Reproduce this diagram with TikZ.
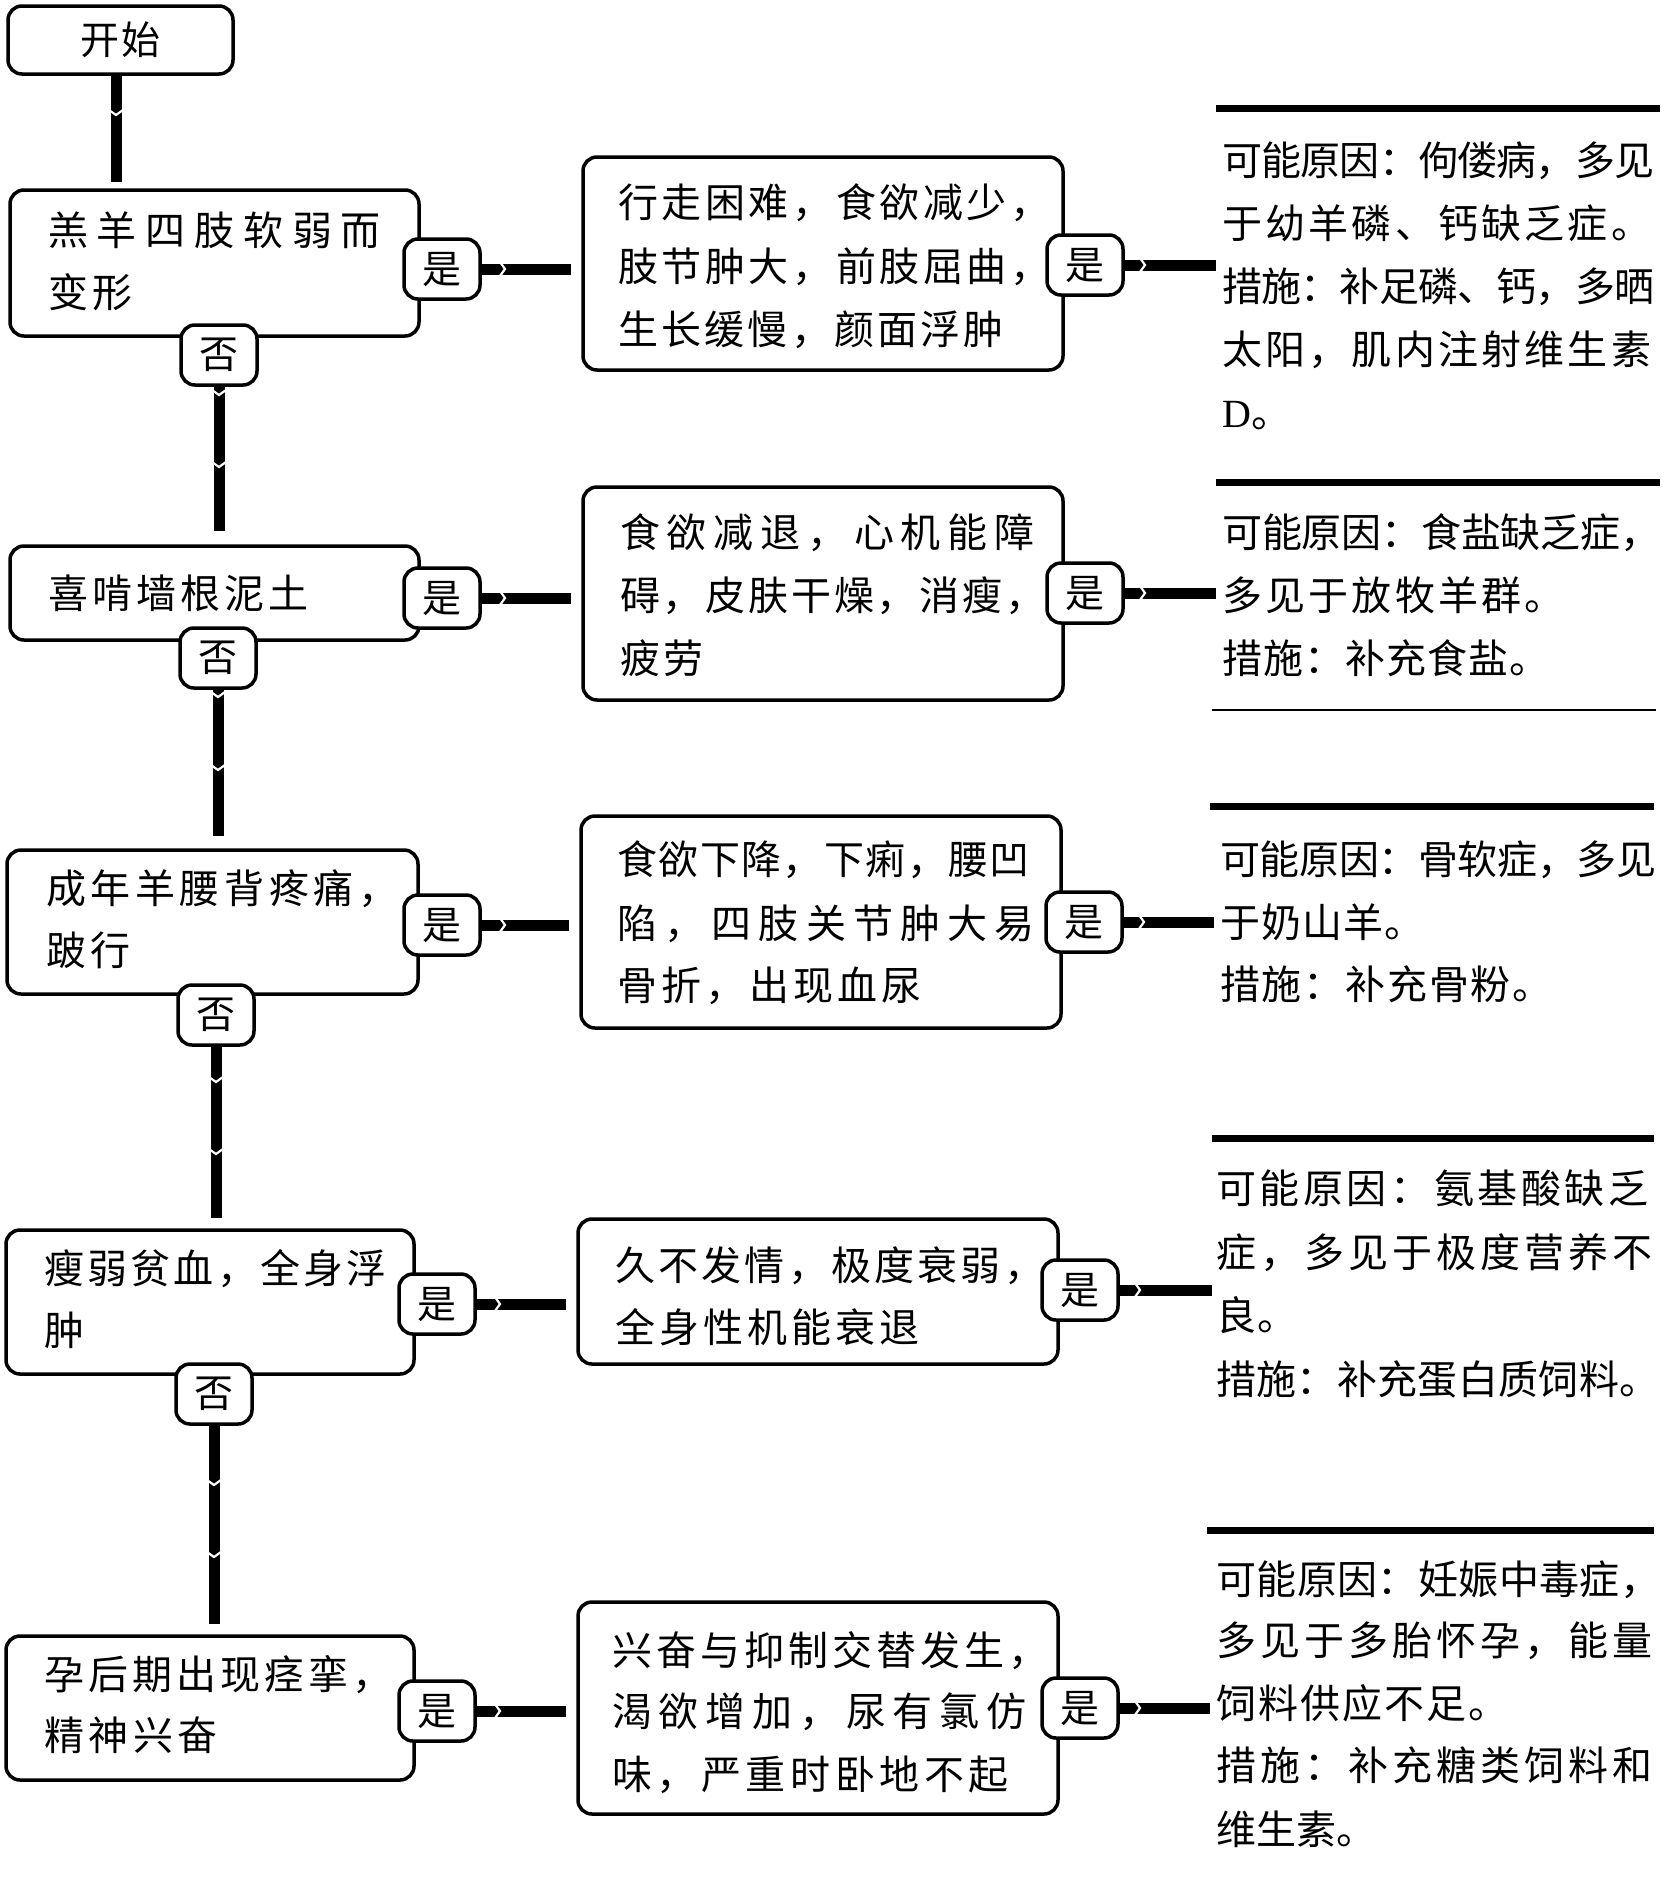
\documentclass[tikz,border=0pt]{standalone}
\usepackage{fontspec}
\newfontfamily\cjk{Noto Sans CJK SC}
\newfontfamily\latserif{Liberation Serif}
\newcommand\mytl[5]{\node[txt,anchor=base west] (#1) at (#2,#3) {\addfontfeature{LetterSpace=#4}#5};}
\begin{document}
\begin{tikzpicture}[x=1pt,y=-1pt,
  box/.style={draw,line width=3.5pt,rounded corners=14pt,fill=white,inner sep=0pt},
  badge/.style={draw,line width=3.5pt,rounded corners=14pt,fill=white,minimum width=76pt,minimum height=60pt,inner sep=0pt,font=\cjk\fontsize{39}{42}\selectfont},
  conn/.style={line width=11pt},
  notch/.style={white,line width=2.2pt},
  txt/.style={inner sep=0pt,font=\cjk\fontsize{40}{44}\selectfont},
  topbar/.style={line width=7pt},
  thinbar/.style={line width=1.5pt}]
\useasboundingbox (0,0) rectangle (1664,1882);

% ---------- left column boxes ----------
\node[box,minimum width=225pt,minimum height=68pt,font=\cjk\fontsize{39}{42}\selectfont] (start) at (120.5,40) {\addfontfeature{LetterSpace=5}开始};
\node[box,minimum width=409pt,minimum height=146pt] (q1) at (214.5,263) {};
\node[box,minimum width=409pt,minimum height=94pt]  (q2) at (214.5,593) {};
\node[box,minimum width=411pt,minimum height=144pt] (q3) at (212.5,922) {};
\node[box,minimum width=408pt,minimum height=144pt] (q4) at (210,1302) {};
\node[box,minimum width=408pt,minimum height=144pt] (q5) at (210,1708) {};

% ---------- middle boxes ----------
\node[box,minimum width=480pt,minimum height=213pt] (m1) at (823,263.5) {};
\node[box,minimum width=480pt,minimum height=213pt] (m2) at (823,593.5) {};
\node[box,minimum width=480pt,minimum height=212pt] (m3) at (821,922) {};
\node[box,minimum width=480pt,minimum height=145pt] (m4) at (818,1291.5) {};
\node[box,minimum width=480pt,minimum height=212pt] (m5) at (818,1708) {};

% ---------- right blocks ----------
\draw[topbar] (1216,108) -- (1660,108);
\draw[topbar] (1216,482) -- (1660,482);
\draw[thinbar] (1212,710) -- (1656,710);
\draw[topbar] (1210,806) -- (1654,806);
\draw[topbar] (1212,1138) -- (1654,1138);
\draw[topbar] (1207,1530) -- (1654,1530);
\coordinate (e1) at (1216,265);
\coordinate (e2) at (1216,593);
\coordinate (e3) at (1214,922);
\coordinate (e4) at (1212,1290);
\coordinate (e5) at (1210,1708);

% ---------- badges ----------
\node[badge] (y1) at (442,269) {是};
\node[badge] (n1) at (219,355) {否};
\node[badge] (y2) at (442,598) {是};
\node[badge] (n2) at (218,658) {否};
\node[badge] (y3) at (442,925) {是};
\node[badge] (n3) at (216,1015) {否};
\node[badge] (y4) at (437,1304) {是};
\node[badge] (n4) at (214,1394) {否};
\node[badge] (y5) at (437,1711) {是};
\node[badge] (z1) at (1085,265) {是};
\node[badge] (z2) at (1085,593) {是};
\node[badge] (z3) at (1084,922) {是};
\node[badge] (z4) at (1080,1290) {是};
\node[badge] (z5) at (1080,1708) {是};

% ---------- vertical connectors ----------
\draw[conn,shorten >=6pt] ([xshift=-4pt]start.south) -- ([xshift=-4pt]start.south |- q1.north);
\draw[notch] (116,113) ++(-7,-3) -- ++(7,5) -- ++(7,-5);
\draw[conn,shorten >=13pt] (n1.south) -- (n1.south |- q2.north);
\draw[notch] (219,393) ++(-7,-3) -- ++(7,5) -- ++(7,-5);
\draw[notch] (219,465) ++(-7,-3) -- ++(7,5) -- ++(7,-5);
\draw[conn,shorten >=12pt] (n2.south) -- (n2.south |- q3.north);
\draw[notch] (218,695) ++(-7,-3) -- ++(7,5) -- ++(7,-5);
\draw[notch] (218,768) ++(-7,-3) -- ++(7,5) -- ++(7,-5);
\draw[conn,shorten >=10pt] (n3.south) -- (n3.south |- q4.north);
\draw[notch] (216,1080) ++(-7,-3) -- ++(7,5) -- ++(7,-5);
\draw[notch] (216,1152) ++(-7,-3) -- ++(7,5) -- ++(7,-5);
\draw[conn,shorten >=10pt] (n4.south) -- (n4.south |- q5.north);
\draw[notch] (214,1483) ++(-7,-3) -- ++(7,5) -- ++(7,-5);
\draw[notch] (214,1555) ++(-7,-3) -- ++(7,5) -- ++(7,-5);

% ---------- horizontal connectors ----------
\draw[conn,shorten >=10pt] (y1.east) -- (y1.east -| m1.west);
\draw[notch] (503,269) ++(-3,-7) -- ++(5,7) -- ++(-5,7);
\draw[conn,shorten >=10pt] (y2.east) -- (y2.east -| m2.west);
\draw[notch] (503,598) ++(-3,-7) -- ++(5,7) -- ++(-5,7);
\draw[conn,shorten >=10pt] (y3.east) -- (y3.east -| m3.west);
\draw[notch] (503,925) ++(-3,-7) -- ++(5,7) -- ++(-5,7);
\draw[conn,shorten >=10pt] (y4.east) -- (y4.east -| m4.west);
\draw[notch] (498,1304) ++(-3,-7) -- ++(5,7) -- ++(-5,7);
\draw[conn,shorten >=10pt] (y5.east) -- (y5.east -| m5.west);
\draw[notch] (498,1711) ++(-3,-7) -- ++(5,7) -- ++(-5,7);

\draw[conn] (z1.east) -- (e1);
\draw[notch] (1143,265) ++(-3,-7) -- ++(5,7) -- ++(-5,7);
\draw[conn] (z2.east) -- (e2);
\draw[notch] (1143,593) ++(-3,-7) -- ++(5,7) -- ++(-5,7);
\draw[conn] (z3.east) -- (e3);
\draw[notch] (1142,922) ++(-3,-7) -- ++(5,7) -- ++(-5,7);
\draw[conn] (z4.east) -- (e4);
\draw[notch] (1138,1290) ++(-3,-7) -- ++(5,7) -- ++(-5,7);
\draw[conn] (z5.east) -- (e5);
\draw[notch] (1138,1708) ++(-3,-7) -- ++(5,7) -- ++(-5,7);

% ---------- texts: questions ----------
\mytl{q1a}{48}{245}{22}{羔羊四肢软弱而}
\mytl{q1b}{48}{307}{12}{变形}
\mytl{q2a}{48}{608}{10}{喜啃墙根泥土}
\mytl{q3a}{46}{903}{11.5}{成年羊腰背疼痛，}
\mytl{q3b}{46}{965}{10}{跛行}
\mytl{q4a}{44}{1283}{8}{瘦弱贫血，全身浮}
\mytl{q4b}{44}{1345}{8}{肿}
\mytl{q5a}{44}{1689}{10}{孕后期出现痉挛，}
\mytl{q5b}{44}{1750}{11.5}{精神兴奋}

% ---------- texts: symptoms ----------
\mytl{m1a}{618}{217}{9}{行走困难，食欲减少，}
\mytl{m1b}{618}{281}{9}{肢节肿大，前肢屈曲，}
\mytl{m1c}{618}{344}{8}{生长缓慢，颜面浮肿}
\mytl{m2a}{620}{547}{17}{食欲减退，心机能障}
\mytl{m2b}{620}{610}{7}{碍，皮肤干燥，消瘦，}
\mytl{m2c}{620}{673}{8}{疲劳}
\mytl{m3a}{617}{874}{3.5}{食欲下降，下痢，腰凹}
\mytl{m3b}{617}{938}{18}{陷，四肢关节肿大易}
\mytl{m3c}{617}{1000}{10}{骨折，出现血尿}
\mytl{m4a}{615}{1280}{8}{久不发情，极度衰弱，}
\mytl{m4b}{615}{1342}{10}{全身性机能衰退}
\mytl{m5a}{612}{1665}{10}{兴奋与抑制交替发生，}
\mytl{m5b}{612}{1726}{17}{渴欲增加，尿有氯仿}
\mytl{m5c}{612}{1789}{11.5}{味，严重时卧地不起}

% ---------- texts: causes ----------
\mytl{r1a}{1222}{175}{-2}{可能原因：佝偻病，多见}
\mytl{r1b}{1222}{238}{8}{于幼羊磷、钙缺乏症。}
\mytl{r1c}{1222}{301}{-2}{措施：补足磷、钙，多晒}
\mytl{r1d}{1222}{364}{8}{太阳，肌内注射维生素}
\mytl{r1e}{1222}{427}{0}{{\latserif D}。}
\mytl{r2a}{1222}{547}{-0.5}{可能原因：食盐缺乏症，}
\mytl{r2b}{1222}{610}{8}{多见于放牧羊群。}
\mytl{r2c}{1222}{673}{2.6}{措施：补充食盐。}
\mytl{r3a}{1220}{874}{-1}{可能原因：骨软症，多见}
\mytl{r3b}{1220}{937}{2.6}{于奶山羊。}
\mytl{r3c}{1220}{999}{4.4}{措施：补充骨粉。}
\mytl{r4a}{1216}{1203}{9}{可能原因：氨基酸缺乏}
\mytl{r4b}{1216}{1267}{10}{症，多见于极度营养不}
\mytl{r4c}{1216}{1330}{2.6}{良。}
\mytl{r4d}{1216}{1394}{0.8}{措施：补充蛋白质饲料。}
\mytl{r5a}{1216}{1594}{1}{可能原因：妊娠中毒症，}
\mytl{r5b}{1216}{1655}{10}{多见于多胎怀孕，能量}
\mytl{r5c}{1216}{1718}{5.3}{饲料供应不足。}
\mytl{r5d}{1216}{1780}{10}{措施：补充糖类饲料和}
\mytl{r5e}{1216}{1844}{0}{维生素。}
\end{tikzpicture}
\end{document}
